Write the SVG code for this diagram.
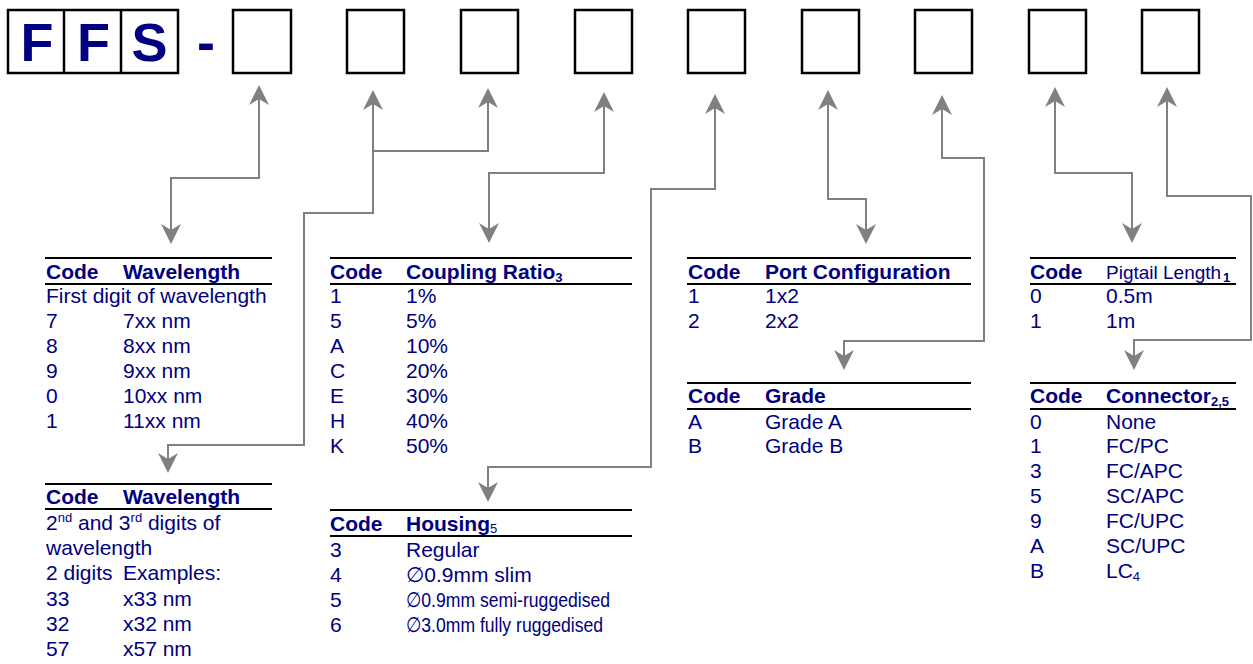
<svg xmlns="http://www.w3.org/2000/svg" width="1253" height="664" viewBox="0 0 1253 664">
<style>
.t{font-family:"Liberation Sans",Arial,"DejaVu Sans",sans-serif;font-size:21px;fill:#000080}
.b{font-weight:bold}
.big{font-family:"Liberation Sans",Arial,sans-serif;font-size:54px;font-weight:bold;fill:#000080;text-anchor:middle}
.rule{stroke:#000;stroke-width:2.2}
.box{fill:#fff;stroke:#000;stroke-width:2.5}
.conn{fill:none;stroke:#808080;stroke-width:2}
.de{marker-end:url(#ah)}
.ds{marker-start:url(#ah);marker-end:url(#ah)}
.sub{font-size:13px}
</style>
<defs>
<marker id="ah" markerUnits="userSpaceOnUse" orient="auto-start-reverse" markerWidth="30" markerHeight="30" viewBox="-10 -15 30 30" refX="0" refY="0" overflow="visible">
<path d="M14,0 L-6,-10 L0,0 L-6,10 Z" fill="#808080"/>
</marker>
</defs>
<rect width="1253" height="664" fill="#fff"/>

<g id="header">
<rect class="box" x="8" y="10" width="170" height="63"/>
<line class="rule" x1="64" y1="10" x2="64" y2="73" style="stroke-width:2.5"/>
<line class="rule" x1="121" y1="10" x2="121" y2="73" style="stroke-width:2.5"/>
<text class="big" x="37" y="61">F</text>
<text class="big" x="93.5" y="61">F</text>
<text class="big" x="149.5" y="61">S</text>
<text class="big" x="206" y="61">-</text>
</g>
<g id="box1"><rect class="box" x="233" y="10" width="58" height="63"/></g>
<g id="box2"><rect class="box" x="347" y="10" width="57" height="63"/></g>
<g id="box3"><rect class="box" x="461" y="10" width="57" height="63"/></g>
<g id="box4"><rect class="box" x="575" y="10" width="57" height="63"/></g>
<g id="box5"><rect class="box" x="688" y="10" width="57" height="63"/></g>
<g id="box6"><rect class="box" x="802" y="10" width="57" height="63"/></g>
<g id="box7"><rect class="box" x="915" y="10" width="57" height="63"/></g>
<g id="box8"><rect class="box" x="1029" y="10" width="57" height="63"/></g>
<g id="box9"><rect class="box" x="1142" y="10" width="57" height="63"/></g>

<g id="connectors">
<path class="conn ds" d="M259,99 V178 H171 V230"/>
<path class="conn ds" d="M373,104 V213 H304 V445 H168 V459"/>
<path class="conn de" d="M373,151 H488 V102"/>
<path class="conn ds" d="M604,106 V173 H489 V229"/>
<path class="conn ds" d="M715,108 V189 H651 V467 H488 V488"/>
<path class="conn ds" d="M828,104 V199 H866 V230"/>
<path class="conn ds" d="M942,109 V158 H984 V341 H844 V356"/>
<path class="conn ds" d="M1055,101 V173 H1132 V229"/>
<path class="conn ds" d="M1167,101 V196 H1251 V340 H1134 V356"/>
</g>

<g id="table-wavelength1">
<line class="rule" x1="45" y1="258" x2="272" y2="258"/>
<text class="t b" x="46" y="279">Code</text>
<text class="t b" x="123" y="279">Wavelength</text>
<line class="rule" x1="45" y1="284" x2="272" y2="284"/>
<text class="t" x="46" y="303">First digit of wavelength</text>
<text class="t" x="46" y="328">7</text><text class="t" x="123" y="328">7xx nm</text>
<text class="t" x="46" y="353">8</text><text class="t" x="123" y="353">8xx nm</text>
<text class="t" x="46" y="378">9</text><text class="t" x="123" y="378">9xx nm</text>
<text class="t" x="46" y="403">0</text><text class="t" x="123" y="403">10xx nm</text>
<text class="t" x="46" y="428">1</text><text class="t" x="123" y="428">11xx nm</text>
</g>

<g id="table-wavelength2">
<line class="rule" x1="45" y1="484" x2="272" y2="484"/>
<text class="t b" x="46" y="504">Code</text>
<text class="t b" x="123" y="504">Wavelength</text>
<line class="rule" x1="45" y1="509" x2="272" y2="509"/>
<text class="t" x="46" y="530">2<tspan class="sub" dy="-8">nd</tspan><tspan dy="8"> and 3</tspan><tspan class="sub" dy="-8">rd</tspan><tspan dy="8"> digits of</tspan></text>
<text class="t" x="46" y="555">wavelength</text>
<text class="t" x="46" y="580">2 digits</text><text class="t" x="123" y="580">Examples:</text>
<text class="t" x="46" y="606">33</text><text class="t" x="123" y="606">x33 nm</text>
<text class="t" x="46" y="631">32</text><text class="t" x="123" y="631">x32 nm</text>
<text class="t" x="46" y="656">57</text><text class="t" x="123" y="656">x57 nm</text>
</g>

<g id="table-coupling">
<line class="rule" x1="330" y1="258" x2="632" y2="258"/>
<text class="t b" x="330" y="279">Code</text>
<text class="t b" x="406" y="279">Coupling Ratio<tspan class="sub" dy="3">3</tspan></text>
<line class="rule" x1="330" y1="284" x2="632" y2="284"/>
<text class="t" x="330" y="303">1</text><text class="t" x="406" y="303">1%</text>
<text class="t" x="330" y="328">5</text><text class="t" x="406" y="328">5%</text>
<text class="t" x="330" y="353">A</text><text class="t" x="406" y="353">10%</text>
<text class="t" x="330" y="378">C</text><text class="t" x="406" y="378">20%</text>
<text class="t" x="330" y="403">E</text><text class="t" x="406" y="403">30%</text>
<text class="t" x="330" y="428">H</text><text class="t" x="406" y="428">40%</text>
<text class="t" x="330" y="453">K</text><text class="t" x="406" y="453">50%</text>
</g>

<g id="table-housing">
<line class="rule" x1="330" y1="510" x2="632" y2="510"/>
<text class="t b" x="330" y="531">Code</text>
<text class="t b" x="406" y="531">Housing<tspan class="sub" style="font-weight:normal" dy="2">5</tspan></text>
<line class="rule" x1="330" y1="536" x2="632" y2="536"/>
<text class="t" x="330" y="557">3</text><text class="t" x="406" y="557">Regular</text>
<text class="t" x="330" y="582">4</text><text class="t" x="406" y="582">∅0.9mm slim</text>
<text class="t" x="330" y="607">5</text><text class="t" x="406" y="607" textLength="204" lengthAdjust="spacingAndGlyphs">∅0.9mm semi-ruggedised</text>
<text class="t" x="330" y="632">6</text><text class="t" x="406" y="632" textLength="197" lengthAdjust="spacingAndGlyphs">∅3.0mm fully ruggedised</text>
</g>

<g id="table-port">
<line class="rule" x1="687" y1="258" x2="971" y2="258"/>
<text class="t b" x="688" y="279">Code</text>
<text class="t b" x="765" y="279">Port Configuration</text>
<line class="rule" x1="687" y1="284" x2="971" y2="284"/>
<text class="t" x="688" y="303">1</text><text class="t" x="765" y="303">1x2</text>
<text class="t" x="688" y="328">2</text><text class="t" x="765" y="328">2x2</text>
</g>

<g id="table-grade">
<line class="rule" x1="687" y1="383" x2="971" y2="383"/>
<text class="t b" x="688" y="403">Code</text>
<text class="t b" x="765" y="403">Grade</text>
<line class="rule" x1="687" y1="409" x2="971" y2="409"/>
<text class="t" x="688" y="429">A</text><text class="t" x="765" y="429">Grade A</text>
<text class="t" x="688" y="453">B</text><text class="t" x="765" y="453">Grade B</text>
</g>

<g id="table-pigtail">
<line class="rule" x1="1030" y1="258" x2="1236" y2="258"/>
<text class="t b" x="1030" y="279">Code</text>
<text class="t" x="1106" y="279" style="font-size:19px">Pigtail Length</text>
<text class="t b sub" x="1223" y="282">1</text>
<line class="rule" x1="1030" y1="284" x2="1236" y2="284"/>
<text class="t" x="1030" y="303">0</text><text class="t" x="1106" y="303">0.5m</text>
<text class="t" x="1030" y="328">1</text><text class="t" x="1106" y="328">1m</text>
</g>

<g id="table-connector">
<line class="rule" x1="1030" y1="383" x2="1236" y2="383"/>
<text class="t b" x="1030" y="403">Code</text>
<text class="t b" x="1106" y="403">Connector<tspan class="sub" dy="3">2,5</tspan></text>
<line class="rule" x1="1030" y1="409" x2="1236" y2="409"/>
<text class="t" x="1030" y="429">0</text><text class="t" x="1106" y="429">None</text>
<text class="t" x="1030" y="453">1</text><text class="t" x="1106" y="453">FC/PC</text>
<text class="t" x="1030" y="478">3</text><text class="t" x="1106" y="478">FC/APC</text>
<text class="t" x="1030" y="503">5</text><text class="t" x="1106" y="503">SC/APC</text>
<text class="t" x="1030" y="528">9</text><text class="t" x="1106" y="528">FC/UPC</text>
<text class="t" x="1030" y="553">A</text><text class="t" x="1106" y="553">SC/UPC</text>
<text class="t" x="1030" y="578">B</text><text class="t" x="1106" y="578">LC<tspan class="sub" dy="3">4</tspan></text>
</g>
</svg>
